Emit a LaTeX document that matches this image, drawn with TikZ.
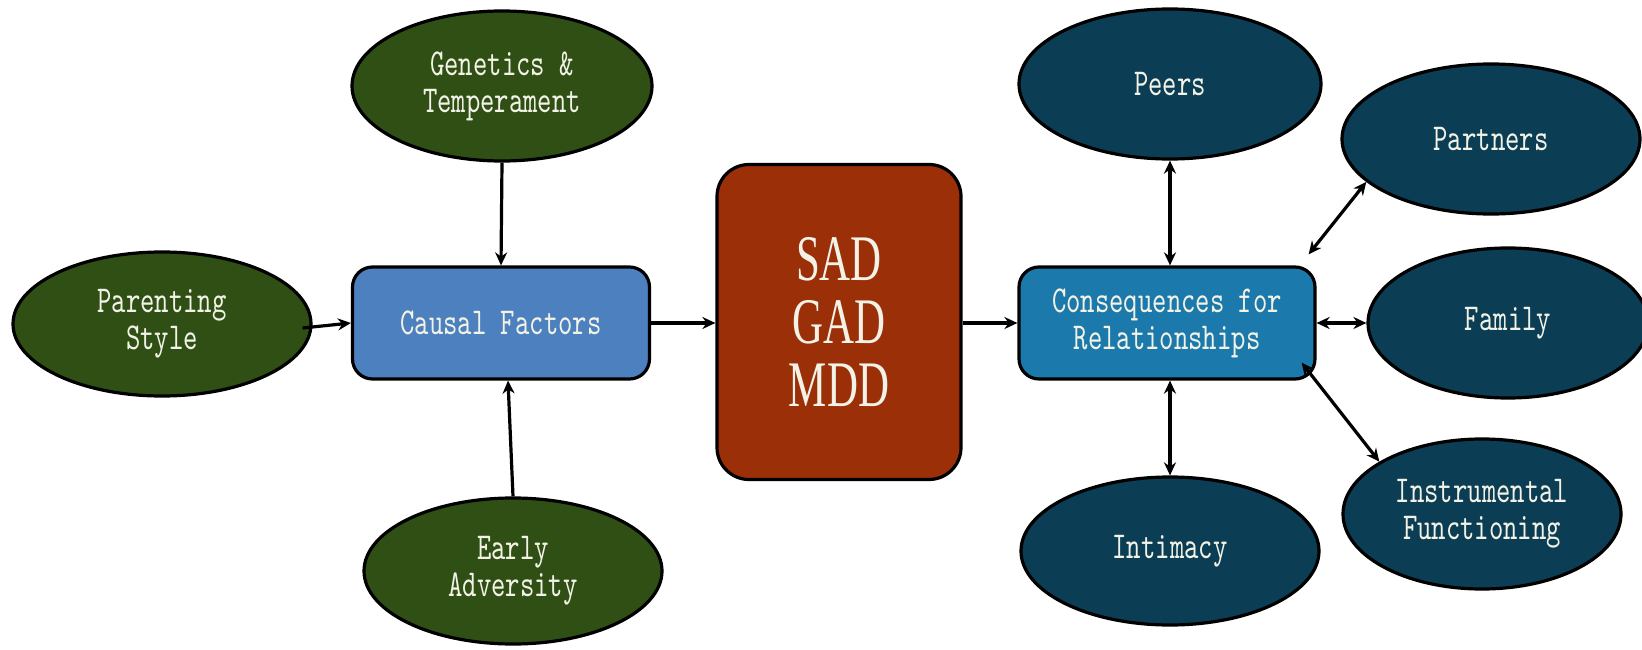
\documentclass[tikz,border=0pt]{standalone}
\usepackage{fontspec}
\usetikzlibrary{shapes.geometric,arrows.meta,calc}
\newfontfamily\lblfont[FakeStretch=0.72]{lmmono10-regular.otf}
\newfontfamily\sadfont[FakeStretch=0.66]{Liberation Serif}
\definecolor{grn}{HTML}{2F4F15}
\definecolor{teal}{HTML}{0B3D55}
\definecolor{cfblue}{HTML}{4C80BE}
\definecolor{consblue}{HTML}{1B79AC}
\definecolor{rust}{HTML}{9B3008}
\definecolor{txt}{HTML}{F2F2E6}
\tikzset{
  lbl/.style={text=txt,align=center,inner sep=0pt,font=\lblfont\fontsize{38}{37}\selectfont},
  greenell/.style={lbl,ellipse,draw=black,line width=3.2pt,fill=grn},
  tealell/.style={lbl,ellipse,draw=black,line width=3.2pt,fill=teal},
  rbox/.style={lbl,rectangle,rounded corners=20pt,draw=black,line width=3.2pt},
  arr/.style={line width=3.2pt,-{Stealth[length=13pt,width=12pt]}},
  darr/.style={line width=3.2pt,{Stealth[length=13pt,width=12pt]}-{Stealth[length=13pt,width=12pt]}}
}
\begin{document}
\begin{tikzpicture}[x=1pt,y=-1pt]
\useasboundingbox (0,0) rectangle (1642,650);
\fill[white] (0,0) rectangle (1642,650);
% left side
\node[greenell,minimum width=300pt,minimum height=150pt] (gen) at (502,86) {Genetics \&\\Temperament};
\node[greenell,minimum width=298pt,minimum height=144pt] (par) at (162,324) {Parenting\\Style};
\node[greenell,minimum width=298pt,minimum height=146pt] (ea) at (513,571) {Early\\Adversity};
\node[rbox,fill=cfblue,minimum width=297pt,minimum height=112pt] (cf) at (501,323) {Causal Factors};
% centre
\node[rectangle,rounded corners=32pt,draw=black,line width=3.2pt,fill=rust,text=txt,align=center,inner sep=0pt,
      minimum width=244pt,minimum height=315pt,font=\sadfont\fontsize{65}{63}\selectfont] (sad) at (839,322) {SAD\\GAD\\MDD};
% right side
\node[rbox,fill=consblue,minimum width=296pt,minimum height=112pt] (cons) at (1167,323) {Consequences for\\Relationships};
\node[tealell,minimum width=302pt,minimum height=150pt] (peers) at (1170,84) {Peers};
\node[tealell,minimum width=298pt,minimum height=150pt] (partners) at (1491,139) {Partners};
\node[tealell,minimum width=280pt,minimum height=150pt] (family) at (1508,323) {Family};
\node[tealell,minimum width=298pt,minimum height=148pt] (intimacy) at (1170,551) {Intimacy};
\node[tealell,minimum width=278pt,minimum height=150pt] (instr) at (1482,514) {Instrumental\\Functioning};
% coordinates for free ends
\coordinate (pa1) at ($(cons.north east)+(-8,-11)$);
\coordinate (in1) at ($(cons.south east)+(-15,-18)$);
\coordinate (pr1) at ($(par.east)+(-10,4)$);
% connectors
\draw[arr] (gen.south) -- (cf.north);
\draw[arr] (pr1) -- (cf.west);
\draw[arr] (ea.north) -- ($(cf.south)+(7,0)$);
\draw[arr] (cf.east) -- (cf.east -| sad.west);
\draw[arr] (sad.east |- cons.west) -- (cons.west);
\draw[darr] (peers.south) -- (peers.south |- cons.north);
\draw[darr] (pa1) -- (partners.199);
\draw[darr] (cons.east) -- (cons.east -| family.west);
\draw[darr] (in1) -- (instr.153);
\draw[darr] (intimacy.north |- cons.south) -- (intimacy.north);
\end{tikzpicture}
\end{document}
